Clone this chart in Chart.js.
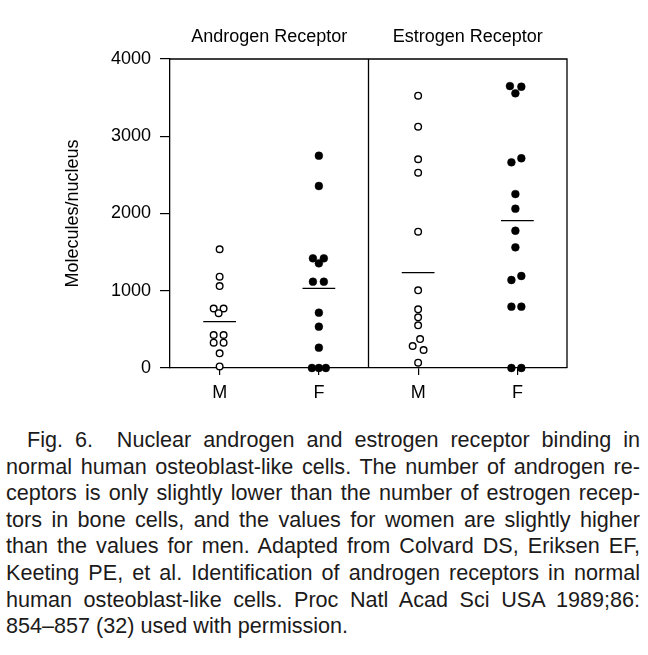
<!DOCTYPE html>
<html>
<head>
<meta charset="utf-8">
<script src="https://cdn.jsdelivr.net/npm/chart.js@4"></script>
<style>
  html, body { margin: 0; padding: 0; background: #fff; }
  body { width: 648px; height: 655px; position: relative; overflow: hidden; }
  #chartBox { position: absolute; left: 0; top: 0; width: 648px; height: 410px; }
  #caption { position: absolute; left: 6px; top: 427px; width: 634px;
    font-family: "Liberation Sans", Arial, sans-serif; font-size: 21.6px; line-height: 26.6px; color: #1c1a1a; }
  #caption div { white-space: pre; }
</style>
</head>
<body>
<div id="chartBox"><canvas id="c" width="648" height="410"></canvas></div>
<div id="caption"></div>
<script>
// ---- data ----
const categories = ['M', 'F', 'M', 'F'];
const categoryCenters = [1, 3, 5, 7];
const panelTitles = ['Androgen Receptor', 'Estrogen Receptor'];
const panelCenters = [2, 6];
const yTicks = [0, 1000, 2000, 3000, 4000];

// Androgen receptor, men (open circles)
const arMaleValues = [1537, 1182, 1061, 770, 770, 710, 427, 427, 328, 328, 190, 20];
const arMaleJitter = [0, 0, 0, -0.12, 0.08, -0.02, -0.12, 0.08, -0.12, 0.08, 0, 0];
// Androgen receptor, women (filled circles)
const arFemaleValues = [2748, 2356, 1420, 1420, 1355, 1117, 1117, 716, 535, 263, 0, 0, 0];
const arFemaleJitter = [0, 0, -0.12, 0.1, 0, -0.12, 0.1, 0, 0, 0, -0.14, 0, 0.14];
// Estrogen receptor, men (open circles)
const erMaleValues = [3525, 3124, 2702, 2528, 1765, 1006, 760, 656, 553, 375, 285, 233, 69];
const erMaleJitter = [0, 0, 0, 0, 0, 0, 0, 0, 0, 0.04, -0.11, 0.11, 0];
// Estrogen receptor, women (filled circles)
const erFemaleValues = [3650, 3641, 3556, 2715, 2663, 2252, 2062, 1777, 1562, 1191, 1139, 794, 794, 0, 0];
const erFemaleJitter = [-0.15, 0.08, -0.04, 0.08, -0.12, -0.04, -0.04, -0.04, -0.04, 0.08, -0.12, -0.12, 0.08, -0.12, 0.08];
// group means (horizontal bars)
const meanValues = [600, 1032, 1234, 1907];

const captionLines = [
  'Fig. 6.  Nuclear androgen and estrogen receptor binding in',
  'normal human osteoblast-like cells. The number of androgen re-',
  'ceptors is only slightly lower than the number of estrogen recep-',
  'tors in bone cells, and the values for women are slightly higher',
  'than the values for men. Adapted from Colvard DS, Eriksen EF,',
  'Keeting PE, et al. Identification of androgen receptors in normal',
  'human osteoblast-like cells. Proc Natl Acad Sci USA 1989;86:',
  '854\u2013857 (32) used with permission.'
];

// ---- build datasets ----
function pts(center, values, jitter) {
  return values.map((v, i) => ({ x: center + jitter[i], y: v }));
}
const FONT = '"Liberation Sans", Arial, sans-serif';
const FS = 18;
const openStyle = { type: 'scatter', pointStyle: 'circle', pointRadius: 3.3, pointBackgroundColor: '#fff',
  pointBorderColor: '#000', pointBorderWidth: 1.4, clip: false };
const fillStyle = { type: 'scatter', pointStyle: 'circle', pointRadius: 3.9, pointBackgroundColor: '#000',
  pointBorderColor: '#000', pointBorderWidth: 0.5, clip: false };

const datasets = [
  Object.assign({ data: pts(categoryCenters[0], arMaleValues, arMaleJitter) }, openStyle),
  Object.assign({ data: pts(categoryCenters[1], arFemaleValues, arFemaleJitter) }, fillStyle),
  Object.assign({ data: pts(categoryCenters[2], erMaleValues, erMaleJitter) }, openStyle),
  Object.assign({ data: pts(categoryCenters[3], erFemaleValues, erFemaleJitter) }, fillStyle)
];
meanValues.forEach((m, i) => {
  datasets.push({ type: 'line', data: [{ x: categoryCenters[i] - 0.33, y: m }, { x: categoryCenters[i] + 0.33, y: m }],
    borderColor: '#000', borderWidth: 1.3, pointRadius: 0, fill: false, clip: false });
});

const framePlugin = {
  id: 'frame',
  afterDraw(chart) {
    const { ctx, chartArea: a, scales: { x } } = chart;
    ctx.save();
    ctx.strokeStyle = '#000';
    ctx.lineWidth = 1.3;
    ctx.beginPath();
    ctx.moveTo(a.left, a.top); ctx.lineTo(a.right, a.top); ctx.lineTo(a.right, a.bottom);
    const xd = x.getPixelForValue(4);
    ctx.moveTo(xd, a.top); ctx.lineTo(xd, a.bottom);
    ctx.stroke();
    ctx.fillStyle = '#000';
    ctx.font = FS + 'px ' + FONT;
    ctx.textAlign = 'center';
    ctx.textBaseline = 'middle';
    panelTitles.forEach((t, i) => ctx.fillText(t, x.getPixelForValue(panelCenters[i]), 37));
    ctx.restore();
  }
};

new Chart(document.getElementById('c'), {
  data: { datasets },
  options: {
    responsive: false,
    animation: false,
    layout: { padding: { left: 0, top: 59, right: 81, bottom: 0 } },
    plugins: { legend: { display: false }, tooltip: { enabled: false } },
    scales: {
      x: {
        type: 'linear', min: 0, max: 8, position: 'bottom',
        afterBuildTicks: s => { s.ticks = categoryCenters.map(v => ({ value: v })); },
        afterFit: s => { s.height = 42; },
        ticks: { callback: (v) => categories[categoryCenters.indexOf(v)] || '', color: '#000',
          font: { family: FONT, size: FS }, padding: 7, maxRotation: 0, autoSkip: false },
        grid: { drawOnChartArea: false, drawTicks: true, tickLength: 7, color: '#000', lineWidth: 1.2 },
        border: { display: true, color: '#000', width: 1.3 }
      },
      y: {
        min: 0, max: 4000,
        afterBuildTicks: s => { s.ticks = yTicks.map(v => ({ value: v })); },
        afterFit: s => { s.width = 170; },
        ticks: { callback: v => String(v), color: '#000', font: { family: FONT, size: FS }, padding: 9 },
        grid: { drawOnChartArea: false, drawTicks: true, tickLength: 10, color: '#000', lineWidth: 1.2 },
        border: { display: true, color: '#000', width: 1.3 },
        title: { display: true, text: 'Molecules/nucleus', color: '#000', font: { family: FONT, size: FS },
          padding: { top: 62, bottom: 0 } }
      }
    }
  },
  plugins: [framePlugin]
});

// ---- caption, justified line by line ----
const cap = document.getElementById('caption');
captionLines.forEach((line, i) => {
  const d = document.createElement('div');
  const s = document.createElement('span');
  s.textContent = line;
  d.appendChild(s);
  if (i === 0) d.style.paddingLeft = '21px';
  cap.appendChild(d);
  if (i < captionLines.length - 1) {
    const target = 634 - (i === 0 ? 21 : 0);
    const natural = s.getBoundingClientRect().width;
    const gaps = (line.match(/ /g) || []).length;
    if (gaps > 0) s.style.wordSpacing = ((target - natural) / gaps) + 'px';
  }
});
</script>
</body>
</html>
